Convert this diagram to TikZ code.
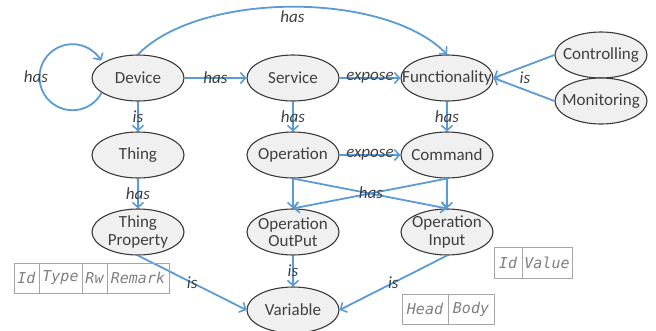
\documentclass[tikz,border=0pt]{standalone}
\usepackage{fontspec}
\setmainfont{Carlito}
\newfontfamily\cellfont{DejaVu Sans Mono}
\usetikzlibrary{shapes.geometric,arrows.meta}
\definecolor{edgeblue}{HTML}{5B9BD5}
\definecolor{nodefill}{HTML}{F0F0F0}
\definecolor{nodeline}{HTML}{3A3A3A}
\definecolor{nodetext}{HTML}{404040}
\definecolor{celltext}{HTML}{808080}
\definecolor{cellline}{HTML}{A6A6A6}
\tikzset{
  concept/.style={ellipse, draw=nodeline, fill=nodefill, line width=1.1pt,
    minimum width=92pt, minimum height=46pt, inner xsep=-14pt, inner ysep=-3pt,
    text=nodetext, font=\fontsize{17}{17.5}\selectfont, align=center},
  rel/.style={draw=edgeblue, line width=1.8pt,
    -{Straight Barb[length=5pt,width=11pt,line width=1.6pt]}},
  lbl/.style={inner sep=0pt, text=nodetext, font=\fontsize{17}{18}\selectfont\itshape},
  cell/.style={rectangle, draw=cellline, line width=1pt, inner sep=0pt,
    minimum height=30pt, text=celltext, font=\fontsize{15}{15}\selectfont\cellfont\itshape}
}
\begin{document}
\begin{tikzpicture}[x=1pt,y=1pt]
\useasboundingbox (0,0) rectangle (656,-330);

% concepts
\node[concept] (dev)  at (138,-78)  {Device};
\node[concept] (svc)  at (293,-78)  {Service};
\node[concept] (func) at (447,-78)  {Functionality};
\node[concept] (ctl)  at (601,-55)  {Controlling};
\node[concept] (mon)  at (601,-101) {Monitoring};
\node[concept] (thing) at (138,-155) {Thing};
\node[concept] (op)   at (293,-155) {Operation};
\node[concept] (cmd)  at (447,-155) {Command};
\node[concept] (tprop) at (138,-232) {Thing\\Property};
\node[concept] (oout) at (293,-232) {Operation\\OutPut};
\node[concept] (oin)  at (447,-232) {Operation\\Input};
\node[concept] (var)  at (293,-310) {Variable};

% self loop on Device
\draw[rel] (dev.202) arc[start angle=-28, end angle=-330, radius=33];
\node[lbl] (loophas) at (36,-77) {has};

% Device -> Functionality
\draw[rel] (dev.north) .. controls (200,9) and (385,9) .. (func.north)
  node[lbl, pos=0.5, anchor=north, yshift=-3pt] {has};

% horizontal relations
\draw[rel] (dev.east) -- (svc.west) node[lbl, midway] {has};
\draw[rel] (svc.east) -- (func.west) node[lbl, midway] {expose};
\draw[rel] (op.east) -- (cmd.west) node[lbl, midway] {expose};
\draw[rel] (ctl.west) -- (func.east);
\draw[rel] (mon.west) -- (func.east);
\node[lbl] (islbl) at (525,-78) {is};

% vertical relations
\draw[rel] (dev.south) -- (thing.north) node[lbl, midway] {is};
\draw[rel] (svc.south) -- (op.north) node[lbl, midway] {has};
\draw[rel] (func.south) -- (cmd.north) node[lbl, midway] {has};
\draw[rel] (thing.south) -- (tprop.north) node[lbl, midway] {has};

% operation / command to their parameters
\draw[rel] (op.south) -- (oout.north);
\draw[rel] (op.south) -- (oin.north);
\draw[rel] (cmd.south) -- (oin.north);
\draw[rel] (cmd.south) -- (oout.north);
\node[lbl] (haslbl) at (371,-193) {has};

% everything ends in Variable
\draw[rel] (tprop.south) -- (var.west) node[lbl, midway] {is};
\draw[rel] (oout.south) -- (var.north) node[lbl, midway] {is};
\draw[rel] (oin.south) -- (var.east) node[lbl, midway] {is};

% field tables
\node[cell, minimum width=25pt] (tpid)   at (26.5,-278) {Id};
\node[cell, minimum width=43pt] (tptype) at (60.5,-278) {Type};
\node[cell, minimum width=25pt] (tprw)   at (94.5,-278) {Rw};
\node[cell, minimum width=62pt] (tprem)  at (138,-278)  {Remark};

\node[cell, minimum width=28pt, minimum height=31pt] (inid)  at (508,-262.5) {Id};
\node[cell, minimum width=50pt, minimum height=31pt] (inval) at (547,-262.5) {Value};

\node[cell, minimum width=46pt] (vhead) at (425,-309) {Head};
\node[cell, minimum width=46pt] (vbody) at (471,-309) {Body};
\end{tikzpicture}
\end{document}
